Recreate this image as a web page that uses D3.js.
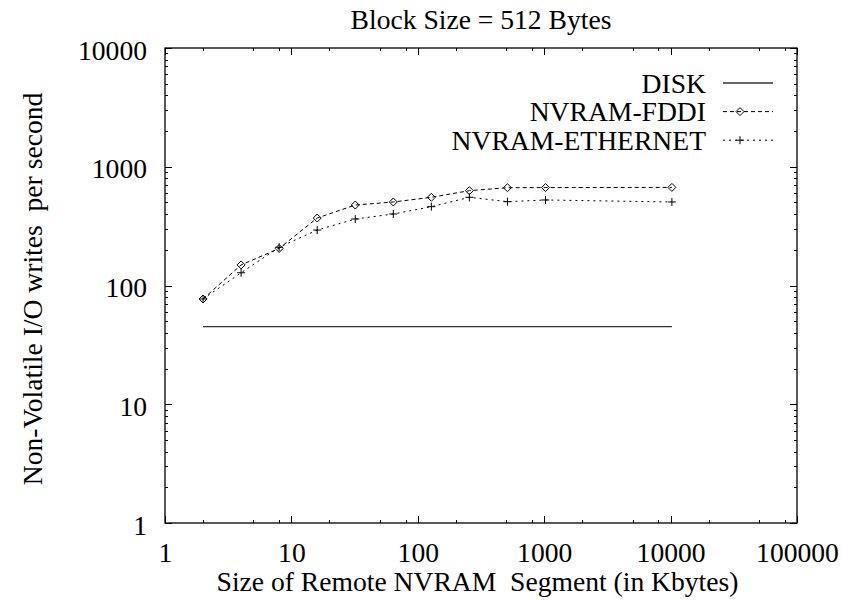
<!DOCTYPE html>
<html>
<head>
<meta charset="utf-8">
<script src="https://cdn.jsdelivr.net/npm/d3@7"></script>
<style>
  body { margin: 0; background: #fff; }
  svg text { font-family: "Liberation Serif", "DejaVu Serif", serif; font-size: 27.6px; fill: #000; }
</style>
</head>
<body>
<svg width="843" height="601" font-family="Liberation Serif" font-size="27.6"></svg>
<script>
// chart values
const sizes = [2, 4, 8, 16, 32, 64, 128, 256, 512, 1024, 10240];
const disk = [45, 45, 45, 45, 45, 45, 45, 45, 45, 45, 45];
const fddi = [77, 149, 205, 370, 476, 505, 553, 629, 666, 668, 670];
const ethernet = [77, 128, 210, 293, 363, 400, 461, 553, 508, 525, 505];
const xTicks = [1, 10, 100, 1000, 10000, 100000];
const yTicks = [1, 10, 100, 1000, 10000];
const seriesNames = ["DISK", "NVRAM-FDDI", "NVRAM-ETHERNET"];

// define chart dimensions
const svg = d3.select("svg");
const plotLeft = 165, plotRight = 797, plotTop = 48, plotBottom = 523;
const serif = "Liberation Serif, DejaVu Serif, serif";

const x = d3.scaleLog().domain([1, 100000]).range([plotLeft, plotRight]);
const y = d3.scaleLog().domain([1, 10000]).range([plotBottom, plotTop]);

// minor ticks: x at 2,5,8 per decade, y at 2..9
const xMinor = [];
xTicks.slice(0, -1).forEach(d => [2, 5, 8].forEach(m => xMinor.push(d * m)));
const yMinor = [];
yTicks.slice(0, -1).forEach(d => d3.range(2, 10).forEach(m => yMinor.push(d * m)));

const fmt = d => String(d);

// axes, all ticks pointing inward
const addAxis = (axis, transform, values, size, labels) => {
  const g = svg.append("g")
    .attr("transform", transform)
    .call(axis.tickValues(values).tickSizeInner(size).tickSizeOuter(0)
      .tickPadding(labels ? 18 : 0)
      .tickFormat(labels ? fmt : ""));
  g.select(".domain").remove();
  g.selectAll("line").attr("stroke", "#000").attr("stroke-width", 1).attr("shape-rendering", "crispEdges");
  g.attr("font-size", 27.6).attr("font-family", serif);
  g.selectAll("text").attr("fill", "#000");
  return g;
};

const gx = addAxis(d3.axisBottom(x), `translate(0,${plotBottom})`, xTicks, -7, true);
gx.selectAll("text").attr("y", 39).attr("dy", null);
addAxis(d3.axisBottom(x), `translate(0,${plotBottom})`, xMinor, -3, false);
addAxis(d3.axisTop(x), `translate(0,${plotTop})`, xTicks, -7, false);
addAxis(d3.axisTop(x), `translate(0,${plotTop})`, xMinor, -3, false);

const gy = addAxis(d3.axisLeft(y), `translate(${plotLeft},0)`, yTicks, -7, true);
gy.selectAll("text").attr("x", -18).attr("dy", "0.4em");
addAxis(d3.axisLeft(y), `translate(${plotLeft},0)`, yMinor, -3, false);
addAxis(d3.axisRight(y), `translate(${plotRight},0)`, yTicks, -7, false);
addAxis(d3.axisRight(y), `translate(${plotRight},0)`, yMinor, -3, false);

// frame
svg.append("rect")
  .attr("x", plotLeft).attr("y", plotTop)
  .attr("width", plotRight - plotLeft).attr("height", plotBottom - plotTop)
  .attr("fill", "none").attr("stroke", "#000").attr("stroke-width", 1.3);

// series
const series = [
  { name: seriesNames[0], values: disk, dash: null, marker: null, color: "#333", width: 1.3 },
  { name: seriesNames[1], values: fddi, dash: "4,3", marker: "diamond", color: "#000", width: 1 },
  { name: seriesNames[2], values: ethernet, dash: "2,4", marker: "plus", color: "#000", width: 1 }
];

const line = d3.line()
  .x(d => x(d[0]))
  .y(d => y(d[1]));

const drawMarker = (g, type, cx, cy) => {
  if (type == "diamond") {
    g.append("path")
      .attr("d", `M${cx},${cy - 4}L${cx + 4},${cy}L${cx},${cy + 4}L${cx - 4},${cy}Z`)
      .attr("fill", "none").attr("stroke", "#000").attr("stroke-width", 1);
  } else if (type == "plus") {
    g.append("path")
      .attr("d", `M${cx - 4},${cy}H${cx + 4}M${cx},${cy - 4}V${cy + 4}`)
      .attr("fill", "none").attr("stroke", "#000").attr("stroke-width", 1);
  }
};

series.forEach(s => {
  const pts = sizes.map((d, i) => [d, s.values[i]]);
  svg.append("path")
    .datum(pts)
    .attr("d", line)
    .attr("fill", "none")
    .attr("stroke", s.color)
    .attr("stroke-width", s.width)
    .attr("stroke-dasharray", s.dash);
  const g = svg.append("g");
  pts.forEach(p => drawMarker(g, s.marker, x(p[0]), y(p[1])));
});

// legend
const legend = svg.selectAll(".key")
  .data(series)
  .enter()
  .append("g")
  .attr("class", "key")
  .attr("transform", (d, i) => "translate(0," + (83 + i * 28.6) + ")");
legend.append("text")
  .attr("x", 706)
  .attr("y", 9.5)
  .attr("text-anchor", "end")
  .attr("font-family", serif)
  .text(d => d.name);
legend.append("line")
  .attr("x1", 723).attr("x2", 773)
  .attr("stroke", d => d.color)
  .attr("stroke-width", d => d.width)
  .attr("stroke-dasharray", d => d.dash);
legend.each(function (d) {
  drawMarker(d3.select(this), d.marker, 740, 0);
});

// titles
svg.append("text")
  .attr("x", (plotLeft + plotRight) / 2)
  .attr("y", 29)
  .attr("text-anchor", "middle")
  .attr("font-family", serif)
  .text("Block Size = 512 Bytes");
svg.append("text")
  .attr("x", 477.5)
  .attr("y", 591)
  .attr("text-anchor", "middle")
  .attr("font-family", serif)
  .style("white-space", "pre")
  .text("Size of Remote NVRAM  Segment (in Kbytes)");
svg.append("text")
  .attr("transform", "translate(42,289) rotate(-90)")
  .attr("text-anchor", "middle")
  .attr("font-family", serif)
  .style("white-space", "pre")
  .text("Non-Volatile I/O writes  per second");
</script>
</body>
</html>
